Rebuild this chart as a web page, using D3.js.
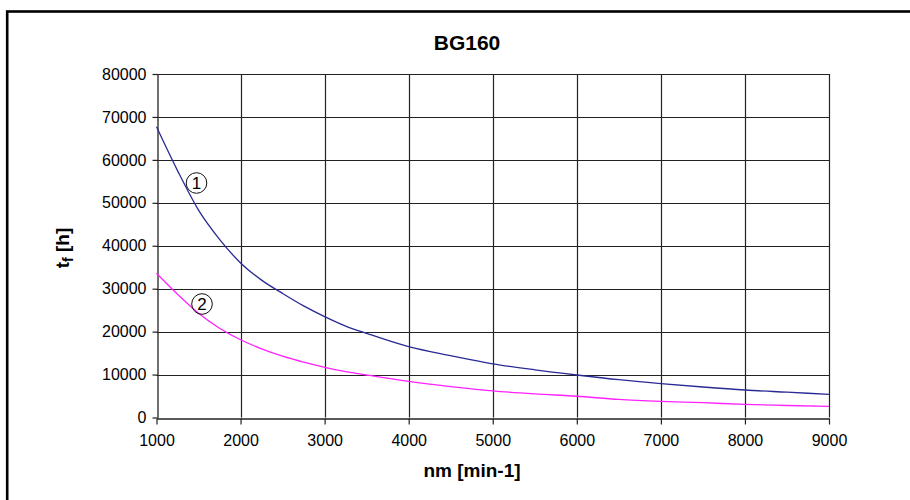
<!DOCTYPE html>
<html><head><meta charset="utf-8">
<script src="https://cdn.jsdelivr.net/npm/d3@7"></script>
<style>body{margin:0;background:#fff}svg{display:block}</style>
</head><body>
<script>
const title = "BG160";
const xLabel = "nm [min-1]";
const nm = [1000,1250,1500,1750,2000,2250,2500,2750,3000,3250,3500,4000,4500,5000,5500,6000,6500,7000,7500,8000,8500,9000];
const curve1 = [67700,57500,48300,41500,36000,32000,28900,26000,23500,21300,19600,16500,14400,12500,11100,9900,8800,7900,7100,6400,5900,5400];
const curve2 = [33600,28700,24300,20800,18100,16000,14300,12900,11700,10700,9900,8400,7200,6200,5500,4950,4200,3750,3450,3050,2800,2600];
const curveLabels = ["1", "2"];
const xTicks = [1000,2000,3000,4000,5000,6000,7000,8000,9000];
const yTicks = [0,10000,20000,30000,40000,50000,60000,70000,80000];

const W = 910, H = 500;
const svg = d3.select("body").append("svg").attr("width", W).attr("height", H);

// outer frame
svg.append("rect").attr("x", 7.2).attr("y", 11.5).attr("width", 1000).attr("height", 1000)
  .attr("fill", "none").attr("stroke", "#000").attr("stroke-width", 2.6);

const x = d3.scaleLinear().domain([1000, 9000]).range([156.5, 829]);
const y = d3.scaleLinear().domain([0, 80000]).range([417.5, 74]);

// gridlines
const grid = svg.append("g");
grid.selectAll("line.v").data(xTicks.slice(1)).join("line")
  .attr("x1", d => Math.round(x(d)) + 0.5).attr("x2", d => Math.round(x(d)) + 0.5)
  .attr("y1", y(80000)).attr("y2", y(0))
  .attr("stroke", "#222").attr("stroke-width", 1.2);
grid.selectAll("line.h").data(yTicks.slice(1)).join("line")
  .attr("x1", x(1000)).attr("x2", x(9000))
  .attr("y1", d => Math.round(y(d)) + 0.5).attr("y2", d => Math.round(y(d)) + 0.5)
  .attr("stroke", "#222").attr("stroke-width", 1.2);

const font = "'Liberation Sans', Arial, sans-serif";

// axes
const xAxis = svg.append("g").attr("transform", `translate(0,${Math.round(y(0)) + 0.5})`)
  .call(d3.axisBottom(x).tickValues(xTicks).tickSize(6).tickSizeOuter(0).tickPadding(10).tickFormat(d3.format("d")));
const yAxis = svg.append("g").attr("transform", `translate(${Math.round(x(1000)) + 0.5},0)`)
  .call(d3.axisLeft(y).tickValues(yTicks).tickSize(5).tickSizeOuter(0).tickPadding(6).tickFormat(d3.format("d")));
[xAxis, yAxis].forEach(a => {
  a.select(".domain").attr("stroke", "#222").attr("stroke-width", 1.3);
  a.selectAll(".tick line").attr("stroke", "#222").attr("stroke-width", 1.2);
  a.selectAll("text").attr("font-family", font).attr("font-size", 16).attr("fill", "#000");
});

// curves
const line = d3.line().x(d => x(d[0])).y(d => y(d[1])).curve(d3.curveMonotoneX);
svg.append("path").datum(nm.map((n, i) => [n, curve1[i]])).attr("d", line)
  .attr("fill", "none").attr("stroke", "#2a2a96").attr("stroke-width", 1.3);
svg.append("path").datum(nm.map((n, i) => [n, curve2[i]])).attr("d", line)
  .attr("fill", "none").attr("stroke", "#ff22ff").attr("stroke-width", 1.3);

// curve labels (circled numbers)
const lblPos = [[196.5, 183], [202, 304]];
curveLabels.forEach((t, i) => {
  const g = svg.append("g").attr("transform", `translate(${lblPos[i][0]},${lblPos[i][1]})`);
  g.append("circle").attr("r", 10.3).attr("fill", "none").attr("stroke", "#111").attr("stroke-width", 1);
  g.append("text").attr("y", 0.5).attr("text-anchor", "middle").attr("dominant-baseline", "central")
    .attr("font-family", font).attr("font-size", 17).attr("fill", "#000").text(t);
});

// title
svg.append("text").attr("x", 467).attr("y", 50).attr("text-anchor", "middle")
  .attr("font-family", font).attr("font-weight", "bold").attr("font-size", 21).text(title);

// x label
svg.append("text").attr("x", 472).attr("y", 477).attr("text-anchor", "middle")
  .attr("font-family", font).attr("font-weight", "bold").attr("font-size", 19).text(xLabel);

// y label
const yl = svg.append("text").attr("transform", "translate(69,248) rotate(-90)").attr("text-anchor", "middle")
  .attr("font-family", font).attr("font-weight", "bold").attr("font-size", 19);
yl.append("tspan").text("t");
yl.append("tspan").attr("font-size", 14).attr("dy", 4).text("f");
yl.append("tspan").attr("dy", -4).text(" [h]");
</script>
</body></html>
